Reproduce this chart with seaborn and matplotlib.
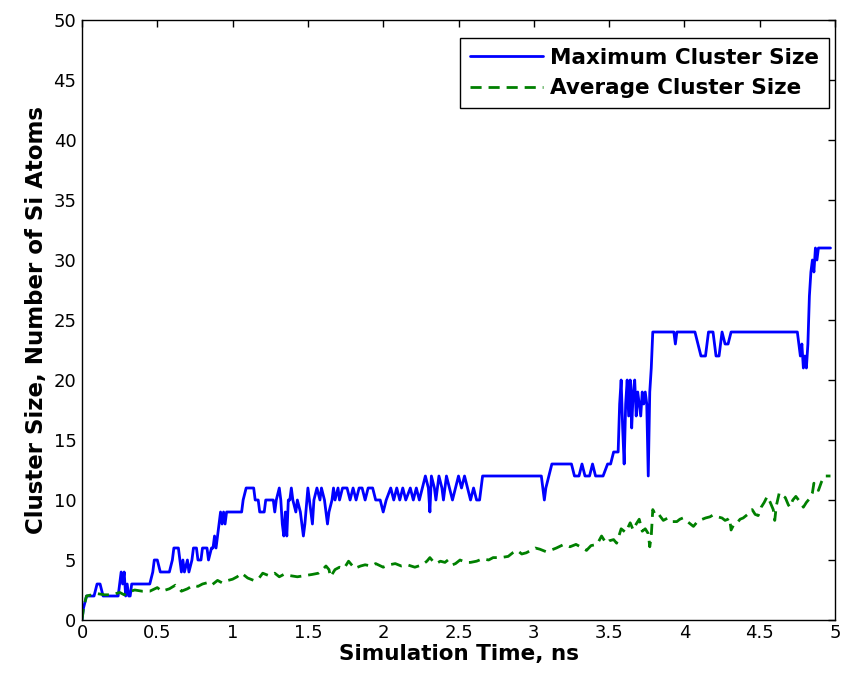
import matplotlib
matplotlib.use("Agg")
import matplotlib.pyplot as plt
import seaborn as sns
import pandas as pd
import numpy as np

# ---- data ----
max_t = [0.00, 0.01, 0.03, 0.08, 0.10, 0.12, 0.14, 0.24, 0.25, 0.26, 0.27, 0.28, 0.29, 0.30, 0.31, 0.32,
         0.33, 0.45, 0.47, 0.48, 0.50, 0.52, 0.58, 0.60, 0.61, 0.64, 0.65, 0.66, 0.67, 0.68, 0.70, 0.71,
         0.73, 0.74, 0.76, 0.77, 0.79, 0.80, 0.83, 0.84, 0.86, 0.87, 0.88, 0.89, 0.90, 0.91, 0.92, 0.93,
         0.94, 0.95, 0.96, 1.06, 1.07, 1.09, 1.14, 1.15, 1.17, 1.18, 1.21, 1.22, 1.27, 1.28, 1.29, 1.31,
         1.32, 1.33, 1.34, 1.35, 1.36, 1.37, 1.38, 1.39, 1.40, 1.42, 1.43, 1.45, 1.46, 1.47, 1.48, 1.50,
         1.51, 1.53, 1.54, 1.56, 1.58, 1.59, 1.61, 1.63, 1.64, 1.66, 1.67, 1.68, 1.70, 1.71, 1.73, 1.76,
         1.78, 1.80, 1.82, 1.84, 1.86, 1.88, 1.90, 1.93, 1.95, 1.98, 2.00, 2.02, 2.05, 2.07, 2.09, 2.11,
         2.13, 2.15, 2.18, 2.20, 2.22, 2.24, 2.26, 2.28, 2.30, 2.31, 2.32, 2.34, 2.35, 2.37, 2.39, 2.40,
         2.42, 2.44, 2.46, 2.48, 2.50, 2.52, 2.54, 2.56, 2.58, 2.60, 2.62, 2.64, 2.66, 2.68, 3.05, 3.06,
         3.07, 3.08, 3.10, 3.12, 3.25, 3.27, 3.30, 3.32, 3.34, 3.37, 3.39, 3.41, 3.46, 3.49, 3.51, 3.53,
         3.56, 3.57, 3.58, 3.59, 3.60, 3.61, 3.62, 3.63, 3.64, 3.65, 3.66, 3.67, 3.68, 3.69, 3.70, 3.71,
         3.72, 3.73, 3.74, 3.75, 3.76, 3.77, 3.78, 3.79, 3.93, 3.94, 3.95, 4.07, 4.09, 4.11, 4.14, 4.16,
         4.19, 4.21, 4.23, 4.25, 4.27, 4.29, 4.31, 4.72, 4.75, 4.76, 4.77, 4.78, 4.79, 4.80, 4.81, 4.82,
         4.83, 4.84, 4.85, 4.86, 4.87, 4.88, 4.89, 4.97]
max_v = [0, 1, 2, 2, 3, 3, 2, 2, 3, 4, 3, 4, 2, 3, 2, 2,
         3, 3, 4, 5, 5, 4, 4, 5, 6, 6, 5, 4, 5, 4, 5, 4,
         5, 6, 6, 5, 5, 6, 6, 5, 6, 6, 7, 6, 7, 8, 9, 8,
         9, 8, 9, 9, 10, 11, 11, 10, 10, 9, 9, 10, 10, 9, 10, 11,
         10, 8, 7, 9, 7, 10, 10, 11, 10, 9, 10, 9, 8, 7, 8, 11,
         10, 8, 10, 11, 10, 11, 10, 8, 9, 10, 11, 10, 11, 10, 11, 11,
         10, 11, 10, 11, 11, 10, 11, 11, 10, 10, 9, 10, 11, 10, 11, 10,
         11, 10, 11, 10, 11, 10, 11, 12, 11, 9, 12, 11, 10, 12, 11, 10,
         12, 11, 10, 11, 12, 11, 12, 11, 10, 11, 10, 10, 12, 12, 12, 11,
         10, 11, 12, 13, 13, 12, 12, 13, 12, 12, 13, 12, 12, 13, 13, 14,
         14, 18, 20, 16, 13, 18, 20, 17, 20, 16, 19, 20, 17, 19, 18, 17,
         19, 18, 19, 18, 12, 19, 21, 24, 24, 23, 24, 24, 23, 22, 22, 24,
         24, 22, 22, 24, 23, 23, 24, 24, 24, 23, 22, 23, 21, 22, 21, 23,
         27, 29, 30, 29, 31, 30, 31, 31]

avg_t = [0.00, 0.01, 0.03, 0.10, 0.15, 0.20, 0.25, 0.28, 0.30, 0.35, 0.40, 0.45, 0.50, 0.53, 0.58, 0.62,
         0.64, 0.66, 0.70, 0.74, 0.77, 0.80, 0.83, 0.86, 0.90, 0.93, 0.97, 1.00, 1.03, 1.06, 1.08, 1.10,
         1.14, 1.17, 1.20, 1.24, 1.28, 1.31, 1.34, 1.38, 1.43, 1.48, 1.53, 1.57, 1.59, 1.62, 1.64, 1.65,
         1.68, 1.71, 1.74, 1.77, 1.79, 1.81, 1.85, 1.88, 1.92, 1.95, 2.00, 2.04, 2.08, 2.12, 2.16, 2.21,
         2.26, 2.29, 2.31, 2.33, 2.35, 2.38, 2.41, 2.43, 2.46, 2.48, 2.51, 2.55, 2.58, 2.62, 2.66, 2.70,
         2.73, 2.78, 2.83, 2.86, 2.89, 2.92, 2.95, 2.98, 3.01, 3.04, 3.08, 3.11, 3.15, 3.20, 3.24, 3.28,
         3.31, 3.35, 3.38, 3.42, 3.45, 3.48, 3.50, 3.53, 3.55, 3.58, 3.61, 3.64, 3.66, 3.68, 3.70, 3.72,
         3.74, 3.76, 3.77, 3.78, 3.79, 3.81, 3.83, 3.86, 3.89, 3.92, 3.95, 3.97, 3.99, 4.03, 4.06, 4.08,
         4.10, 4.14, 4.17, 4.19, 4.22, 4.25, 4.27, 4.29, 4.30, 4.31, 4.33, 4.35, 4.37, 4.39, 4.41, 4.43,
         4.45, 4.47, 4.49, 4.51, 4.53, 4.55, 4.57, 4.59, 4.60, 4.61, 4.63, 4.65, 4.67, 4.69, 4.70, 4.72,
         4.74, 4.77, 4.79, 4.81, 4.83, 4.85, 4.86, 4.88, 4.89, 4.91, 4.93, 4.97]
avg_v = [0, 1, 2, 2.2, 2.1, 2.1, 2.3, 2.1, 2.3, 2.5, 2.4, 2.4, 2.7, 2.4, 2.6, 2.9,
         2.7, 2.4, 2.6, 2.9, 2.8, 3.0, 3.1, 2.9, 3.3, 3.1, 3.3, 3.4, 3.6, 3.9, 3.7, 3.5,
         3.3, 3.4, 3.9, 3.7, 3.9, 3.6, 3.8, 3.7, 3.6, 3.7, 3.8, 3.9, 4.1, 4.5, 4.2, 3.6,
         4.2, 4.4, 4.3, 4.9, 4.6, 4.3, 4.5, 4.6, 4.5, 4.7, 4.4, 4.6, 4.7, 4.5, 4.6, 4.4,
         4.6, 4.9, 5.2, 4.9, 4.7, 4.9, 4.8, 5.0, 4.6, 4.7, 5.0, 4.8, 4.8, 4.9, 5.1, 5.0,
         5.2, 5.2, 5.3, 5.6, 5.8, 5.5, 5.6, 5.8, 6.0, 5.9, 5.7, 5.8, 6.0, 6.3, 6.1, 6.3,
         6.1, 5.8, 6.2, 6.3, 7.0, 6.4, 6.6, 6.7, 6.4, 7.6, 7.3, 8.1, 7.5, 8.0, 8.4, 7.4,
         7.6, 7.2, 6.1, 7.0, 9.2, 8.7, 8.8, 8.3, 8.5, 8.2, 8.2, 8.4, 8.5, 8.1, 7.8, 8.1,
         8.3, 8.5, 8.6, 8.75, 8.6, 8.5, 8.3, 8.4, 8.5, 7.5, 8.0, 8.1, 8.4, 8.5, 8.7, 8.9,
         9.2, 8.8, 8.7, 9.4, 9.8, 10.3, 9.8, 9.2, 8.3, 9.5, 10.6, 10.4, 10.2, 9.6, 9.4, 10.0,
         10.3, 9.8, 9.4, 9.8, 10.1, 10.6, 11.4, 10.9, 10.8, 11.5, 12.0, 12.0]

x_ticks = [0, 0.5, 1, 1.5, 2, 2.5, 3, 3.5, 4, 4.5, 5]
x_tick_labels = ["0", "0.5", "1", "1.5", "2", "2.5", "3", "3.5", "4", "4.5", "5"]
y_ticks = [0, 5, 10, 15, 20, 25, 30, 35, 40, 45, 50]

series_names = ["Maximum Cluster Size", "Average Cluster Size"]

df = pd.concat([
    pd.DataFrame({"t": max_t, "v": max_v, "series": series_names[0]}),
    pd.DataFrame({"t": avg_t, "v": avg_v, "series": series_names[1]}),
], ignore_index=True)

sns.set_style("white")
plt.rcParams["font.family"] = ["DejaVu Sans"]
plt.rcParams["text.color"] = "black"
plt.rcParams["axes.labelcolor"] = "black"

fig = plt.figure(figsize=(8.46, 6.86), dpi=100)
ax = fig.add_axes([82/846, 66/686, (835-82)/846, (620-20)/686])

sns.lineplot(data=df, x="t", y="v", hue="series", style="series",
             palette={series_names[0]: "#0000ff", series_names[1]: "#008000"},
             dashes={series_names[0]: "", series_names[1]: (4, 2.5)},
             estimator=None, sort=False, linewidth=2.0, ax=ax)

ax.set_xlim(0, 5)
ax.set_ylim(0, 50)
ax.set_xticks(x_ticks)
ax.set_xticklabels(x_tick_labels)
ax.set_yticks(y_ticks)
ax.tick_params(direction="in", length=5, width=1, top=True, right=True,
               labelsize=13, pad=4, colors="black")
ax.tick_params(axis="x", pad=3)
for s in ax.spines.values():
    s.set_color("black")
    s.set_linewidth(1)

ax.set_xlabel("Simulation Time, ns", fontsize=15.5, fontweight="bold", labelpad=1, color="black")
ax.set_ylabel("Cluster Size, Number of Si Atoms", fontsize=16.5, fontweight="bold", labelpad=4, color="black")

leg = ax.legend(loc="upper right", bbox_to_anchor=(829/846, (686-38)/686),
                bbox_transform=fig.transFigure, frameon=True, fancybox=False,
                edgecolor="black", framealpha=1, handlelength=3.4,
                borderaxespad=0, borderpad=0.45, labelspacing=0.5, handletextpad=0.35,
                prop={"size": 15.5, "weight": "bold"})
leg.get_frame().set_linewidth(1)
for txt in leg.get_texts():
    txt.set_color("black")

fig.savefig("out.png", dpi=100, facecolor="white")
